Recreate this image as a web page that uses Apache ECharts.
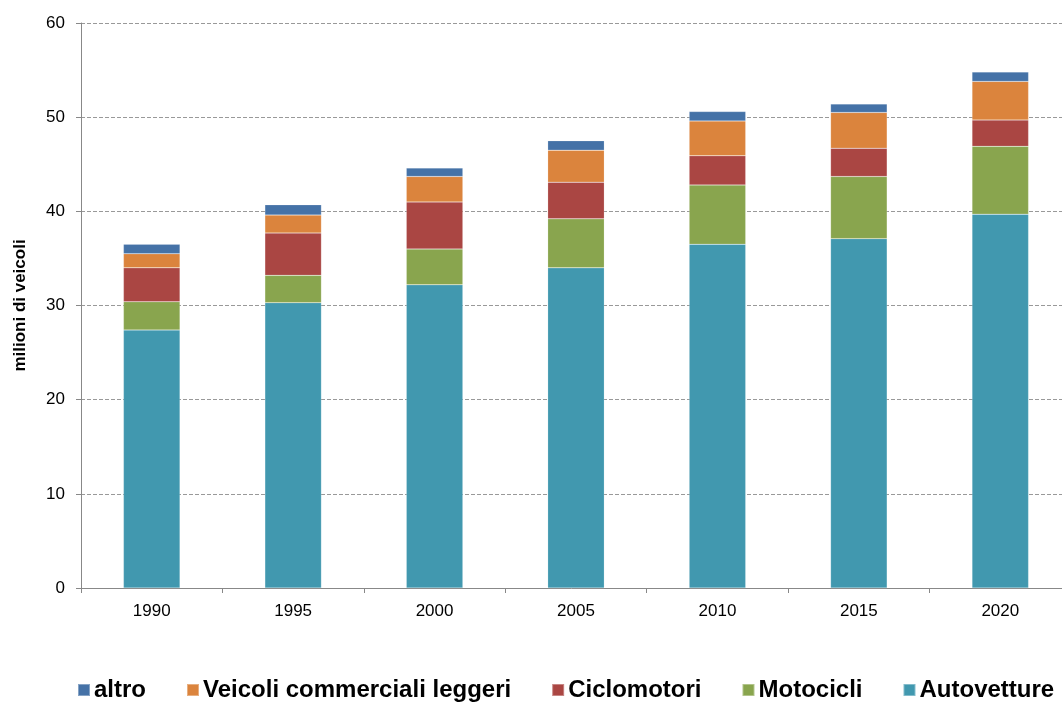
<!DOCTYPE html>
<html>
<head>
<meta charset="utf-8">
<script src="https://cdn.jsdelivr.net/npm/echarts@6/dist/echarts.min.js"></script>
<style>
html,body{margin:0;padding:0;background:#fff;}
#chart{width:1062px;height:704px;}
</style>
</head>
<body>
<div id="chart"></div>
<script>
const years = ['1990','1995','2000','2005','2010','2015','2020'];
const autovetture = [27.4, 30.3, 32.2, 34.0, 36.5, 37.1, 39.7];
const motocicli   = [3.0, 2.9, 3.8, 5.2, 6.3, 6.6, 7.2];
const ciclomotori = [3.6, 4.5, 5.0, 3.9, 3.1, 3.0, 2.8];
const veicoliComm = [1.5, 1.9, 2.7, 3.4, 3.7, 3.8, 4.1];
const altro       = [1.0, 1.1, 0.9, 1.0, 1.0, 0.9, 1.0];
const legendOrder = ['altro', 'Veicoli commerciali leggeri', 'Ciclomotori', 'Motocicli', 'Autovetture'];

const font = 'Liberation Sans, Arial, sans-serif';
const chart = echarts.init(document.getElementById('chart'), null, {renderer: 'canvas'});

function s(name, data, color) {
  return {
    name: name, type: 'bar', stack: 'tot', data: data, barWidth: '40%',
    itemStyle: {color: color, borderColor: 'rgba(255,255,255,0.35)', borderWidth: 0.5},
    emphasis: {disabled: true}
  };
}

chart.setOption({
  animation: false,
  textStyle: {fontFamily: font},
  grid: {left: 81, width: 990, top: 23, bottom: 116, outerBoundsMode: 'none', containLabel: false},
  legend: {
    data: legendOrder,
    bottom: -3, left: 77, padding: [5, 0, 5, 0],
    itemWidth: 12, itemHeight: 12, itemGap: 40,
    icon: 'rect',
    textStyle: {fontFamily: font, fontSize: 24, fontWeight: 'bold', color: '#000', padding: [0, 0, 0, -1]}
  },
  xAxis: {
    type: 'category', data: years,
    axisLine: {lineStyle: {color: '#888'}},
    axisTick: {show: true, length: 5, lineStyle: {color: '#888'}},
    axisLabel: {fontFamily: font, fontSize: 17, color: '#000', margin: 15}
  },
  yAxis: {
    type: 'value', min: 0, max: 60, interval: 10,
    name: 'milioni di veicoli', nameLocation: 'middle', nameGap: 52,
    nameTextStyle: {fontFamily: font, fontSize: 17, fontWeight: 'bold', color: '#000'},
    axisLine: {show: true, lineStyle: {color: '#888'}},
    axisTick: {show: true, length: 5, lineStyle: {color: '#888'}},
    axisLabel: {fontFamily: font, fontSize: 17, color: '#000', margin: 16},
    splitLine: {lineStyle: {color: '#999', type: [4, 2]}}
  },
  series: [
    s('Autovetture', autovetture, '#4198AF'),
    s('Motocicli', motocicli, '#89A54E'),
    s('Ciclomotori', ciclomotori, '#AA4643'),
    s('Veicoli commerciali leggeri', veicoliComm, '#DB843D'),
    s('altro', altro, '#4572A7')
  ]
});
</script>
</body>
</html>
